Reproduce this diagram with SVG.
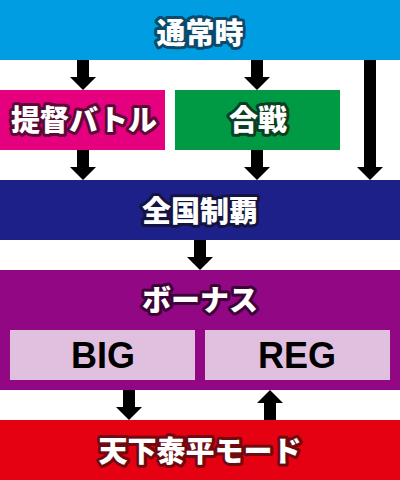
<svg xmlns="http://www.w3.org/2000/svg" width="400" height="480" viewBox="0 0 400 480">
<style>
.lbl{font-family:"Noto Sans CJK JP","Noto Sans",sans-serif;font-weight:900;font-size:29px;fill:#fff;text-anchor:middle;paint-order:stroke;stroke-width:6;stroke-linejoin:round}
.sub{font-family:"Liberation Sans",Arial,sans-serif;font-weight:bold;font-size:36px;fill:#000;text-anchor:middle}
.arr{fill:#000}
</style>
<rect width="400" height="480" fill="#fff"/>
<g id="tsujou">
<rect x="0" y="0" width="400" height="60" fill="#009de2"/>
<text class="lbl" x="200" y="44" stroke="#0b4a6b">通常時</text>
</g>
<g id="teitoku">
<rect x="0" y="90" width="165" height="60" fill="#e4007f"/>
<text class="lbl" x="84" y="131" stroke="#5a0a35">提督バトル</text>
</g>
<g id="kassen">
<rect x="175" y="90" width="165" height="60" fill="#009944"/>
<text class="lbl" x="258" y="131" stroke="#0b3f22">合戦</text>
</g>
<g id="zenkoku">
<rect x="0" y="180" width="400" height="60" fill="#1d2088"/>
<text class="lbl" x="200" y="222" stroke="#15133f">全国制覇</text>
</g>
<g id="bonus">
<rect x="0" y="270" width="400" height="120" fill="#920783"/>
<text class="lbl" x="200" y="311" stroke="#3d0238">ボーナス</text>
</g>
<g id="big">
<rect x="10" y="330" width="185" height="50" fill="#e1bfdf"/>
<text class="sub" x="103" y="368">BIG</text>
</g>
<g id="reg">
<rect x="205" y="330" width="185" height="50" fill="#e1bfdf"/>
<text class="sub" x="297" y="368">REG</text>
</g>
<g id="tenka">
<rect x="0" y="420" width="400" height="60" fill="#e50012"/>
<text class="lbl" x="200" y="462" stroke="#6e0a10">天下泰平モード</text>
</g>
<g id="connectors" class="arr">
<polygon points="77,60 89,60 89,77 96,77 83,90 70,77 77,77"/>
<polygon points="251,60 263,60 263,77 270,77 257,90 244,77 251,77"/>
<polygon points="364,60 376,60 376,167 383,167 370,180 357,167 364,167"/>
<polygon points="77,150 89,150 89,167 96,167 83,180 70,167 77,167"/>
<polygon points="251,150 263,150 263,167 270,167 257,180 244,167 251,167"/>
<polygon points="194,240 206,240 206,257 213,257 200,270 187,257 194,257"/>
<polygon points="123,390 135,390 135,407 142,407 129,420 116,407 123,407"/>
<polygon points="264,420 276,420 276,403 283,403 270,390 257,403 264,403"/>
</g>
</svg>
